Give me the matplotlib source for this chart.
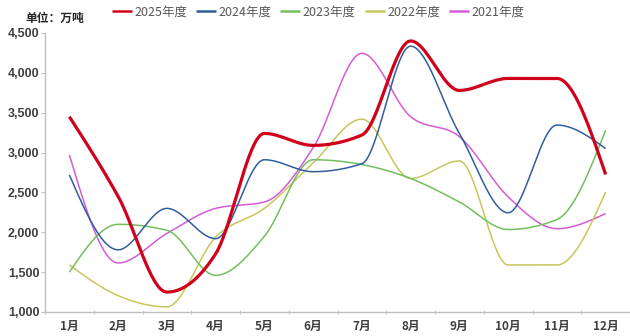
import numpy as np
import matplotlib
matplotlib.use("Agg")
import matplotlib.pyplot as plt

plt.rcParams['font.family'] = ['Noto Sans CJK SC', 'DejaVu Sans']

months = ["1月", "2月", "3月", "4月", "5月", "6月", "7月", "8月", "9月", "10月", "11月", "12月"]

y2025 = [3450, 2450, 1250, 1730, 3240, 3090, 3220, 4400, 3780, 3930, 3930, 2725]
y2024 = [2720, 1780, 2300, 1920, 2910, 2760, 2860, 4335, 3240, 2245, 3345, 3050]
y2023 = [1500, 2100, 2025, 1460, 1950, 2910, 2850, 2675, 2380, 2035, 2160, 3280]
y2022 = [1590, 1205, 1065, 1940, 2300, 2870, 3420, 2675, 2895, 1590, 1590, 2505]
y2021 = [2970, 1615, 1985, 2300, 2380, 3060, 4245, 3450, 3200, 2445, 2045, 2235]

series = [
    ("2025年度", y2025, "#D0021B", 2.3),
    ("2024年度", y2024, "#2F5D9E", 1.1),
    ("2023年度", y2023, "#72BF5E", 1.1),
    ("2022年度", y2022, "#C9C65C", 1.1),
    ("2021年度", y2021, "#D65BD6", 1.1),
]

yticks = [1000, 1500, 2000, 2500, 3000, 3500, 4000, 4500]


def monotone(xs, ys, n=40):
    """Monotone cubic interpolation (Steffen-style tangents)."""
    xs = np.asarray(xs, float)
    ys = np.asarray(ys, float)
    h = np.diff(xs)
    s = np.diff(ys) / h
    m = np.zeros_like(ys)
    for i in range(1, len(ys) - 1):
        p = (s[i - 1] * h[i] + s[i] * h[i - 1]) / (h[i - 1] + h[i])
        m[i] = (np.sign(s[i - 1]) + np.sign(s[i])) * min(abs(s[i - 1]), abs(s[i]), 0.5 * abs(p))
    m[0] = (3 * s[0] - m[1]) / 2
    m[-1] = (3 * s[-1] - m[-2]) / 2
    outx, outy = [], []
    t = np.linspace(0, 1, n)
    for i in range(len(xs) - 1):
        h00 = 2 * t**3 - 3 * t**2 + 1
        h10 = t**3 - 2 * t**2 + t
        h01 = -2 * t**3 + 3 * t**2
        h11 = t**3 - t**2
        outx.extend(xs[i] + t * h[i])
        outy.extend(h00 * ys[i] + h10 * h[i] * m[i] + h01 * ys[i + 1] + h11 * h[i] * m[i + 1])
    return np.array(outx), np.array(outy)


fig = plt.figure(figsize=(6.3, 3.36), dpi=100)
ax = fig.add_axes([45 / 630, 1 - 312 / 336, 585 / 630, 279 / 336])

x = np.arange(len(months))
# older years first so 2025 sits on top
for label, vals, color, lw in reversed(series):
    sx, sy = monotone(x, vals)
    ax.plot(sx, sy, color=color, lw=lw, label=label, solid_capstyle='butt')

ax.set_xlim(-0.5, len(months) - 0.5)
ax.set_ylim(1000, 4500)
ax.set_yticks(yticks)
ax.set_yticklabels([f"{v:,}" for v in yticks], fontsize=9, color="#404040",
                   fontweight='bold', family=['Liberation Sans Narrow', 'Liberation Sans', 'DejaVu Sans'])
ax.set_xticks(x)
ax.set_xticklabels(months, fontsize=8.5, color="#404040", fontweight='bold')
ax.set_xticks(np.arange(-0.5, len(months)), minor=True)
ax.tick_params(axis='x', which='major', length=0, pad=6)
ax.tick_params(axis='x', which='minor', length=3, direction='inout', color="#BFBFBF")
ax.tick_params(axis='y', length=3, direction='out', color="#BFBFBF", pad=1)

for s in ['top', 'right']:
    ax.spines[s].set_visible(False)
for s in ['left', 'bottom']:
    ax.spines[s].set_color("#BFBFBF")
    ax.spines[s].set_linewidth(1.0)

fig.text(25 / 630, 1 - 18 / 336, "单位：万吨", fontsize=8.5, color="#262626",
         fontweight='bold', va='center', ha='left')

handles, labels = ax.get_legend_handles_labels()
leg = fig.legend(handles[::-1], labels[::-1], loc='center', bbox_to_anchor=(318 / 630, 1 - 12 / 336),
                 ncol=5, frameon=False, fontsize=9, handlelength=1.6, handletextpad=0.2,
                 columnspacing=0.7, labelcolor="#595959")
for hd in leg.legend_handles:
    hd.set_linewidth(1.8)

fig.savefig("out.png", dpi=100)
